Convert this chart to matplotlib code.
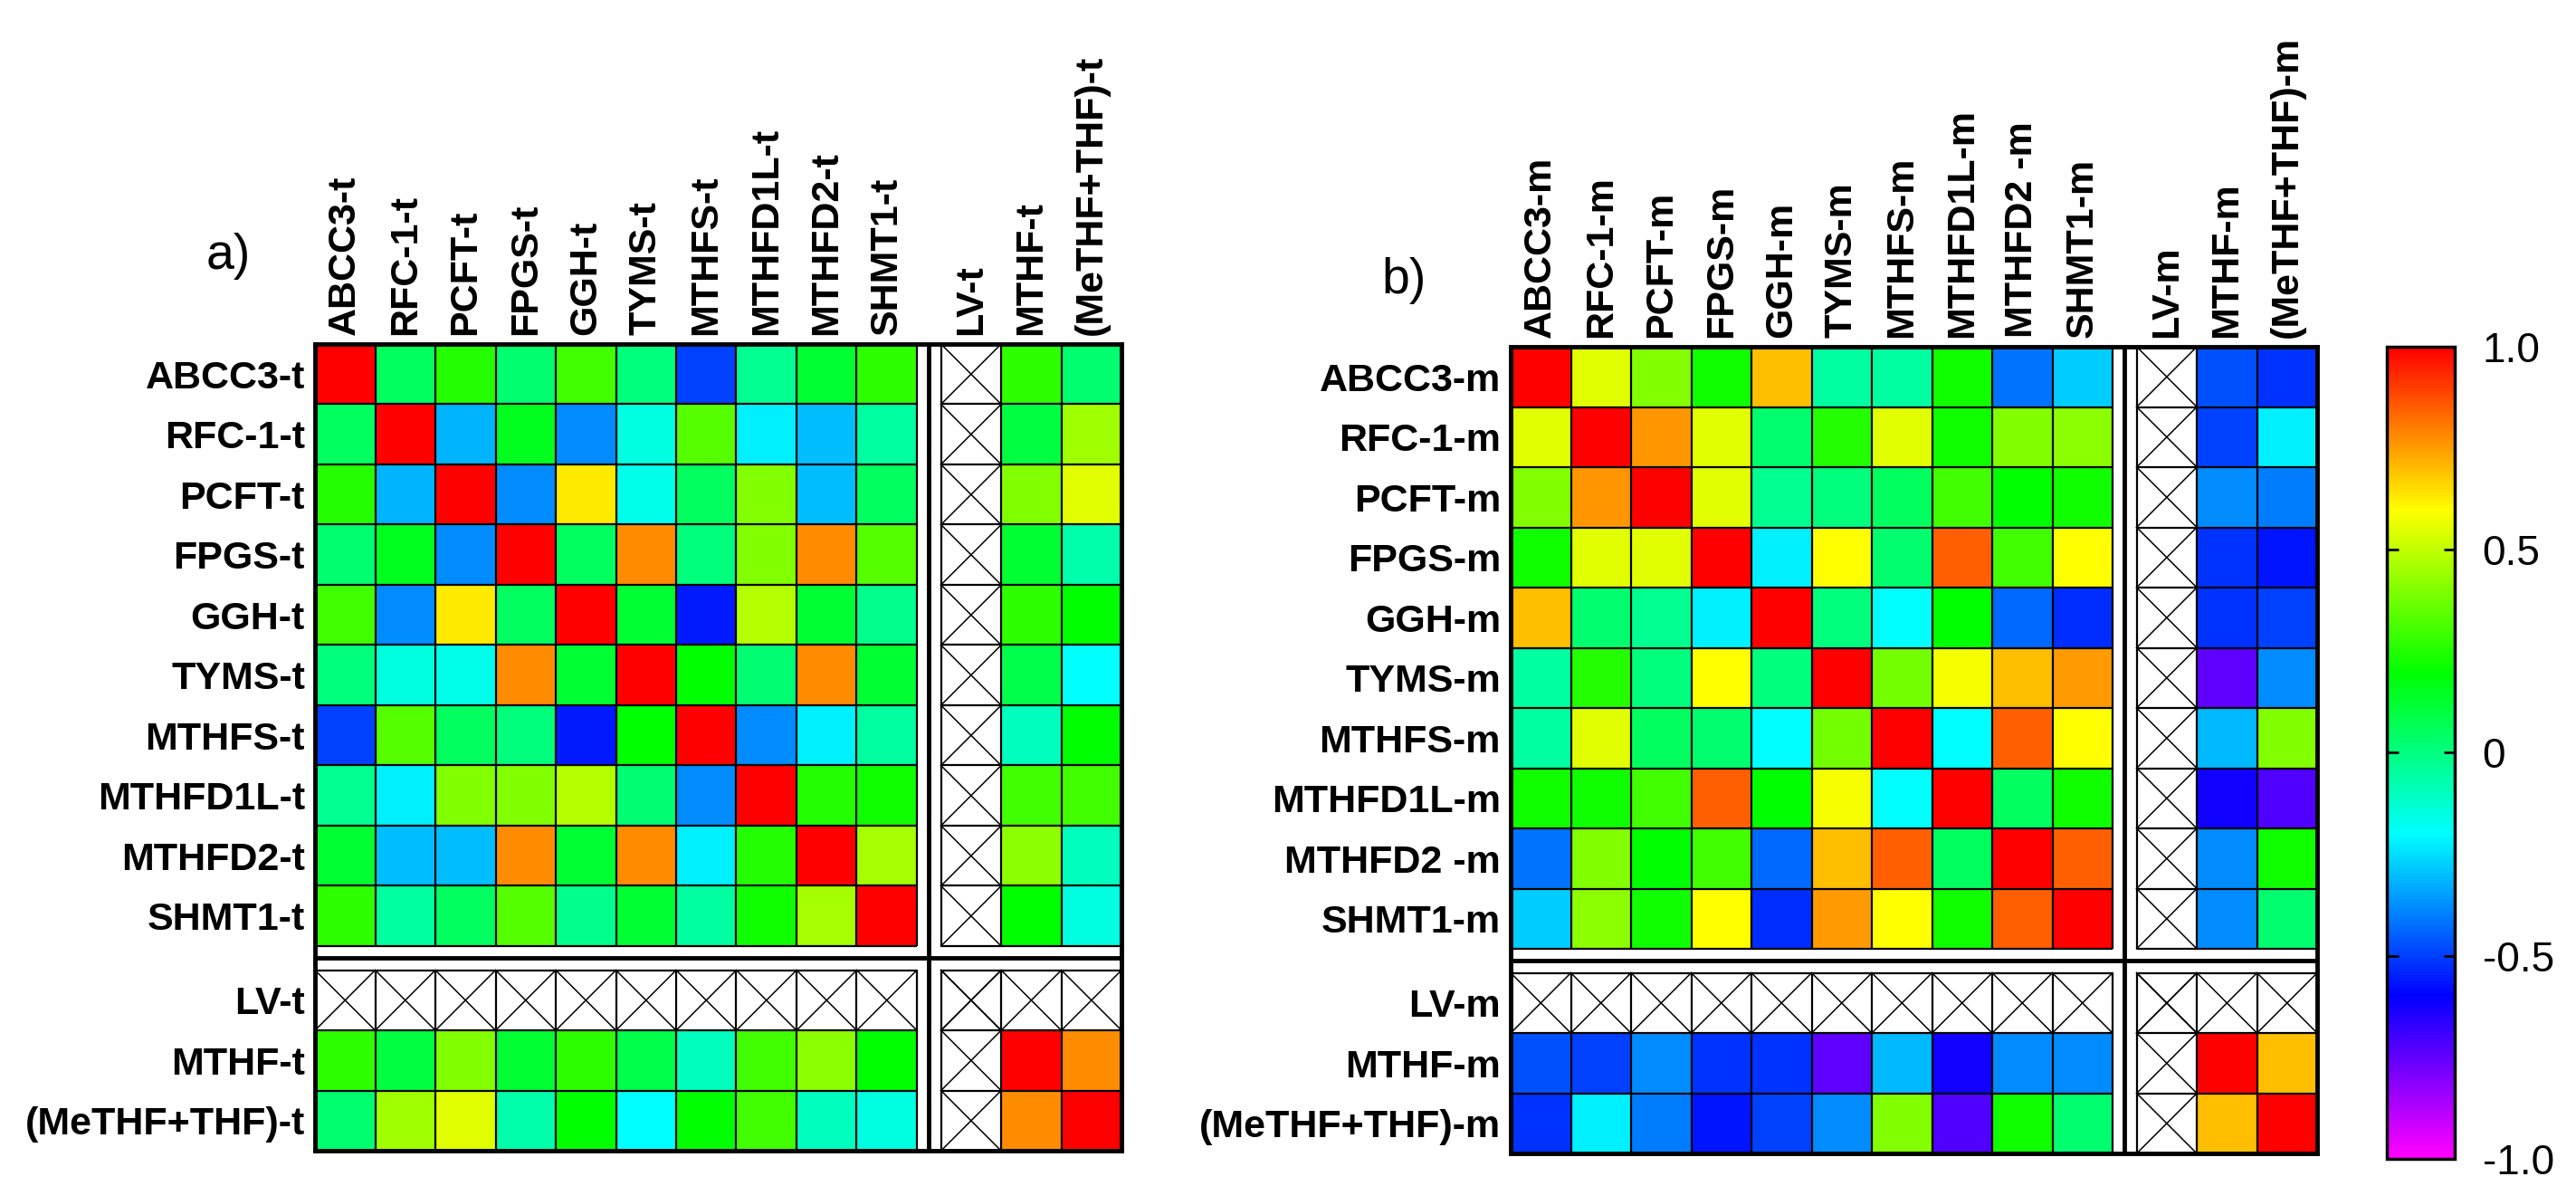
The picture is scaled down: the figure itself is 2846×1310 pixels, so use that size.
import numpy as np
import matplotlib
matplotlib.use("Agg")
import matplotlib.pyplot as plt
from matplotlib import colors

plt.rcParams['font.family'] = ['Liberation Sans', 'DejaVu Sans']

# etiquetas
genes_t = ['ABCC3-t', 'RFC-1-t', 'PCFT-t', 'FPGS-t', 'GGH-t', 'TYMS-t',
           'MTHFS-t', 'MTHFD1L-t', 'MTHFD2-t', 'SHMT1-t']
extra_t = ['LV-t', 'MTHF-t', '(MeTHF+THF)-t']
genes_m = ['ABCC3-m', 'RFC-1-m', 'PCFT-m', 'FPGS-m', 'GGH-m', 'TYMS-m',
           'MTHFS-m', 'MTHFD1L-m', 'MTHFD2 -m', 'SHMT1-m']
extra_m = ['LV-m', 'MTHF-m', '(MeTHF+THF)-m']

# correlaciones tejido (a)
corr_t = [
    [1.00, 0.05, 0.25, 0.03, 0.30, 0.00, -0.50, -0.03, 0.12, 0.27],
    [0.05, 1.00, -0.32, 0.15, -0.38, -0.15, 0.33, -0.22, -0.30, -0.05],
    [0.25, -0.32, 1.00, -0.38, 0.63, -0.17, 0.05, 0.40, -0.30, 0.05],
    [0.03, 0.15, -0.38, 1.00, 0.05, 0.78, 0.00, 0.40, 0.78, 0.33],
    [0.30, -0.38, 0.63, 0.05, 1.00, 0.12, -0.56, 0.48, 0.12, -0.02],
    [0.00, -0.15, -0.17, 0.78, 0.12, 1.00, 0.20, 0.02, 0.78, 0.12],
    [-0.50, 0.33, 0.05, 0.00, -0.56, 0.20, 1.00, -0.38, -0.22, -0.05],
    [-0.03, -0.22, 0.40, 0.40, 0.48, 0.02, -0.38, 1.00, 0.25, 0.22],
    [0.12, -0.30, -0.30, 0.78, 0.12, 0.78, -0.22, 0.25, 1.00, 0.46],
    [0.27, -0.05, 0.05, 0.33, -0.02, 0.12, -0.05, 0.22, 0.46, 1.00],
]
mthf_t = [0.27, 0.10, 0.40, 0.12, 0.27, 0.08, -0.10, 0.30, 0.42, 0.20]
methf_t = [0.03, 0.45, 0.55, -0.07, 0.20, -0.20, 0.20, 0.30, -0.10, -0.15]
mthf_methf_t = 0.78

# correlaciones (b)
corr_m = [
    [1.00, 0.55, 0.40, 0.22, 0.70, -0.05, -0.05, 0.22, -0.42, -0.28],
    [0.55, 1.00, 0.76, 0.55, 0.03, 0.25, 0.55, 0.22, 0.40, 0.42],
    [0.40, 0.76, 1.00, 0.55, -0.03, 0.00, 0.05, 0.30, 0.20, 0.22],
    [0.22, 0.55, 0.55, 1.00, -0.22, 0.60, 0.03, 0.85, 0.30, 0.60],
    [0.70, 0.03, -0.03, -0.22, 1.00, 0.00, -0.20, 0.20, -0.43, -0.53],
    [-0.05, 0.25, 0.00, 0.60, 0.00, 1.00, 0.38, 0.58, 0.70, 0.75],
    [-0.05, 0.55, 0.05, 0.03, -0.20, 0.38, 1.00, -0.20, 0.85, 0.60],
    [0.22, 0.22, 0.30, 0.85, 0.20, 0.58, -0.20, 1.00, 0.05, 0.22],
    [-0.42, 0.40, 0.20, 0.30, -0.43, 0.70, 0.85, 0.05, 1.00, 0.85],
    [-0.28, 0.42, 0.22, 0.60, -0.53, 0.75, 0.60, 0.22, 0.85, 1.00],
]
mthf_m = [-0.47, -0.50, -0.38, -0.52, -0.52, -0.75, -0.31, -0.62, -0.38, -0.38]
methf_m = [-0.52, -0.22, -0.40, -0.57, -0.50, -0.38, 0.40, -0.72, 0.22, 0.03]
mthf_methf_m = 0.70

cb_ticks = [1.0, 0.5, 0.0, -0.5, -1.0]
cb_labels = ['1.0', '0.5', '0', '-0.5', '-1.0']

# arcoiris de magenta (-1) a rojo (1)
hues = np.linspace(300, 0, 256) / 360.0
hsv = np.stack([hues, np.ones(256), np.ones(256)], axis=1)
cmap = colors.ListedColormap(colors.hsv_to_rgb(hsv))
norm = colors.Normalize(-1, 1)

W, H = 2846, 1310
GAP = 0.4
n = 10
edges = np.concatenate([np.arange(0, n + 1), n + GAP + np.arange(1, 4)])
edges = np.insert(edges, n + 1, n + GAP)  # 0..10, 10.4, 11.4, 12.4, 13.4
centers = (edges[:-1] + edges[1:]) / 2
idx = [i for i in range(n + 4) if i != n]   # sin la columna de separacion

fig = plt.figure(figsize=(W / 100, H / 100), dpi=100)


def panel(left_px, top_px, genes, extra, corr, mthf, methf, mm):
    size = 13 + GAP
    cell = 66.5
    side = size * cell
    ax = fig.add_axes([left_px / W, 1 - (top_px + side) / H, side / W, side / H])

    full = np.full((n + 4, n + 4), np.nan)
    full[:n, :n] = np.array(corr)
    full[:n, n + 2] = mthf
    full[n + 2, :n] = mthf
    full[:n, n + 3] = methf
    full[n + 3, :n] = methf
    full[n + 2, n + 2] = 1.0
    full[n + 3, n + 3] = 1.0
    full[n + 2, n + 3] = mm
    full[n + 3, n + 2] = mm
    ax.pcolormesh(edges, edges, np.ma.masked_invalid(full), cmap=cmap, norm=norm)

    # rejilla por bloques
    blocks = [(0, n), (n + GAP, n + GAP + 3)]
    for r0, r1 in blocks:
        for c0, c1 in blocks:
            ys = np.arange(r0, r1 + 0.01, 1)
            xs = np.arange(c0, c1 + 0.01, 1)
            ax.hlines(ys, c0, c1, color='black', lw=1.6)
            ax.vlines(xs, r0, r1, color='black', lw=1.6)
    ax.axhline(n + GAP / 2, color='black', lw=3.5)
    ax.axvline(n + GAP / 2, color='black', lw=3.5)

    # celdas LV con cruz
    lv = n + 1
    for j in idx:
        for (r, c) in [(lv, j), (j, lv)]:
            x0, x1 = edges[c], edges[c + 1]
            y0, y1 = edges[r], edges[r + 1]
            ax.plot([x0, x1], [y0, y1], color='black', lw=1.1)
            ax.plot([x0, x1], [y1, y0], color='black', lw=1.1)

    ax.set_xlim(0, edges[-1])
    ax.set_ylim(edges[-1], 0)
    labels = genes + extra
    ax.set_xticks(centers[idx])
    ax.set_xticklabels(labels, rotation=90, fontsize=31, fontweight='bold')
    ax.set_yticks(centers[idx])
    ax.set_yticklabels(labels, fontsize=31, fontweight='bold')
    ax.xaxis.tick_top()
    ax.tick_params(axis='x', length=0, pad=7)
    ax.tick_params(axis='y', length=0, pad=8)
    for s in ax.spines.values():
        s.set_linewidth(3.5)
    return ax


panel(348, 380, genes_t, extra_t, corr_t, mthf_t, methf_t, mthf_methf_t)
panel(1669, 383, genes_m, extra_m, corr_m, mthf_m, methf_m, mthf_methf_m)

fig.text(252 / W, 1 - 283 / H, 'a)', fontsize=40, ha='center', va='center')
fig.text(1551 / W, 1 - 310 / H, 'b)', fontsize=40, ha='center', va='center')

# barra de color
cax = fig.add_axes([2637 / W, 1 - 1280 / H, 75 / W, 897 / H])
sm = plt.cm.ScalarMappable(norm=norm, cmap=cmap)
cb = fig.colorbar(sm, cax=cax, ticks=cb_ticks)
cb.ax.set_yticklabels(cb_labels)
cb.outline.set_linewidth(2.5)
cax.tick_params(direction='in', left=True, right=True, length=9, width=2,
                labelsize=33, pad=22)

fig.savefig('out.png', dpi=100)
